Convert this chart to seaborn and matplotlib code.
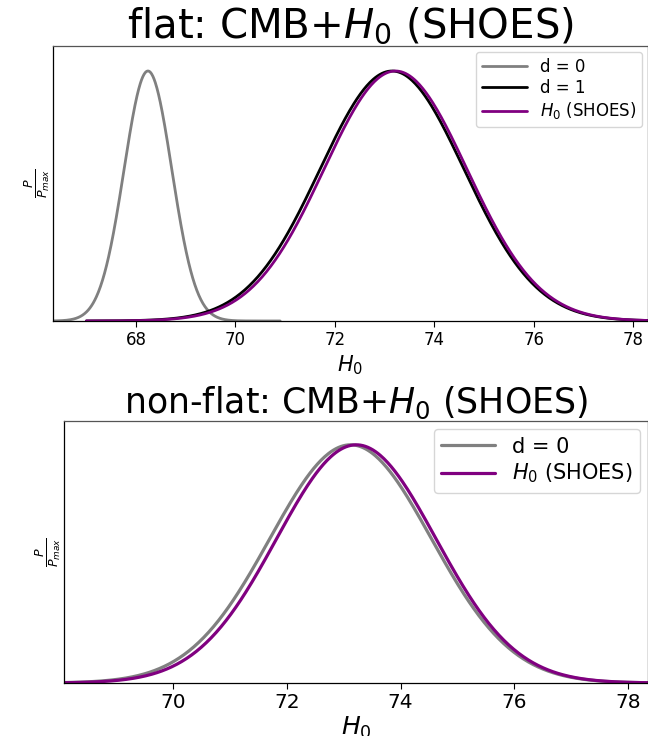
import numpy as np
import pandas as pd
import matplotlib
matplotlib.use("Agg")
import matplotlib.pyplot as plt
import seaborn as sns

# ---- data ----
flat_labels = ["d = 0", "d = 1", r"$H_0$ (SHOES)"]
flat_means = [68.24, 73.15, 73.22]
flat_sigmas = [0.48, 1.45, 1.44]
flat_xmin = [66.0, 67.0, 67.0]
flat_xmax = [70.9, 80.0, 80.0]
flat_colors = ["gray", "black", "purple"]

nonflat_labels = ["d = 0", r"$H_0$ (SHOES)"]
nonflat_means = [73.12, 73.22]
nonflat_sigmas = [1.42, 1.40]
nonflat_xmin = [67.0, 67.0]
nonflat_xmax = [80.0, 80.0]
nonflat_colors = ["gray", "purple"]

flat_ticks = [68, 70, 72, 74, 76, 78]
nonflat_ticks = [70, 72, 74, 76, 78]


def build(labels, means, sigmas, xmin, xmax):
    frames = []
    for lab, m, s, a, b in zip(labels, means, sigmas, xmin, xmax):
        x = np.linspace(a, b, 600)
        y = np.exp(-0.5 * ((x - m) / s) ** 2)
        frames.append(pd.DataFrame({"H0": x, "P": y, "label": lab}))
    return pd.concat(frames, ignore_index=True)


df_flat = build(flat_labels, flat_means, flat_sigmas, flat_xmin, flat_xmax)
df_nonflat = build(nonflat_labels, nonflat_means, nonflat_sigmas, nonflat_xmin, nonflat_xmax)

sns.set_style("ticks")
plt.rcParams["font.family"] = ["DejaVu Sans"]
plt.rcParams["text.color"] = "black"
plt.rcParams["axes.labelcolor"] = "black"
plt.rcParams["xtick.color"] = "black"
plt.rcParams["legend.labelspacing"] = 0.3

fig = plt.figure(figsize=(6.48, 7.36), dpi=100)
ax1 = fig.add_axes([0.0818, 0.5639, 0.9182, 0.3736])
ax2 = fig.add_axes([0.0988, 0.072, 0.9012, 0.356])

sns.lineplot(data=df_flat, x="H0", y="P", hue="label", hue_order=flat_labels,
             palette=dict(zip(flat_labels, flat_colors)), linewidth=2,
             sort=False, estimator=None, ax=ax1)
ax1.set_xlim(66.33, 78.3)
ax1.set_ylim(0, 1.1)
ax1.set_xticks(flat_ticks)
ax1.set_yticks([])
ax1.tick_params(axis="x", labelsize=12, length=4, width=0.8, colors="black")
ax1.set_xlabel(r"$H_0$", fontsize=15, labelpad=3)
ax1.set_ylabel(r"$\frac{P}{P_{max}}$", fontsize=13, labelpad=1)
ax1.set_title(r"flat: CMB+$H_0$ (SHOES)", fontsize=29, pad=4)
ax1.legend(loc="upper right", fontsize=12, frameon=True, handlelength=2.7,
           labelspacing=0.2, borderaxespad=0.35, borderpad=0.35)

sns.lineplot(data=df_nonflat, x="H0", y="P", hue="label", hue_order=nonflat_labels,
             palette=dict(zip(nonflat_labels, nonflat_colors)), linewidth=2.3,
             sort=False, estimator=None, ax=ax2)
ax2.set_xlim(68.08, 78.35)
ax2.set_ylim(0, 1.1)
ax2.set_xticks(nonflat_ticks)
ax2.set_yticks([])
ax2.tick_params(axis="x", labelsize=14.5, length=4, width=0.8, colors="black")
ax2.set_xlabel(r"$H_0$", fontsize=18, labelpad=2)
ax2.set_ylabel(r"$\frac{P}{P_{max}}$", fontsize=13, labelpad=1)
ax2.set_title(r"non-flat: CMB+$H_0$ (SHOES)", fontsize=25, pad=3)
ax2.legend(loc="upper right", fontsize=15, frameon=True, handlelength=2.6,
           labelspacing=0.25, borderaxespad=0.4, borderpad=0.35)

for ax in (ax1, ax2):
    for sp in ax.spines.values():
        sp.set_visible(True)
        sp.set_linewidth(0.9)
        sp.set_color("black")
    ax.spines["top"].set_color("#555555")

fig.savefig("out.png", dpi=100)
